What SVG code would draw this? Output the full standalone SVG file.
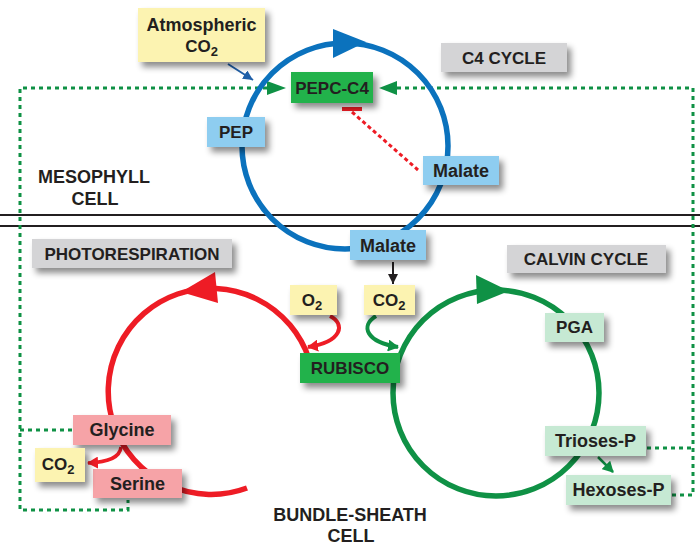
<svg xmlns="http://www.w3.org/2000/svg" width="700" height="548" viewBox="0 0 700 548">
<style>
text{font-family:"Liberation Sans",Arial,sans-serif;font-weight:bold;fill:#231f20;text-anchor:middle;font-size:17px}
.cell{font-size:18px}
.mx{font-size:18px}
.yel{fill:#fcf3b1}
.blu{fill:#8ecdf0}
.pnk{fill:#f6a3a7}
.lgr{fill:#c6e9d3}
.grn{fill:#22b24c}
.gry{fill:#d4d4d6}
.box{filter:url(#sh)}
.dot{fill:none;stroke:#0f9145;stroke-width:3;stroke-dasharray:4 4}
.cyc{fill:none;stroke-width:5.5}
</style>
<defs>
<filter id="sh" x="-20%" y="-30%" width="150%" height="180%">
<feDropShadow dx="4" dy="5" stdDeviation="3" flood-color="#000" flood-opacity="0.45"/>
</filter>
<marker id="ab" markerUnits="userSpaceOnUse" markerWidth="12" markerHeight="10" refX="10" refY="5" orient="auto"><path d="M0,0 L10,5 L0,10 Z" fill="#1f5fa8"/></marker>
<marker id="ak" markerUnits="userSpaceOnUse" markerWidth="12" markerHeight="10" refX="10" refY="5" orient="auto"><path d="M0,0 L10,5 L0,10 Z" fill="#231f20"/></marker>
<marker id="ar" markerUnits="userSpaceOnUse" markerWidth="12" markerHeight="12" refX="10" refY="6" orient="auto"><path d="M0,0 L11,6 L0,12 Z" fill="#ee1c25"/></marker>
<marker id="ag" markerUnits="userSpaceOnUse" markerWidth="12" markerHeight="12" refX="10" refY="6" orient="auto"><path d="M0,0 L11,6 L0,12 Z" fill="#0f9145"/></marker>
</defs>
<rect width="700" height="548" fill="#fff"/>

<g id="connectors">
<line x1="0" y1="215" x2="700" y2="215" stroke="#231f20" stroke-width="2"/>
<line x1="0" y1="226" x2="700" y2="226" stroke="#231f20" stroke-width="2"/>
<path class="dot" d="M267 88 H20 V510 H128 V500"/>
<path class="dot" d="M20 430 H72"/>
<path class="dot" d="M397 88 H693 V495 H672"/>
<path class="dot" d="M647 448 H693"/>
<polygon points="267,81 267,95 286,88" fill="#0f9145"/>
<polygon points="379,88 397,81 397,95" fill="#0f9145"/>
<circle class="cyc" cx="345" cy="146" r="103" stroke="#0b72bd"/>
<polygon points="333,29 333,58 366,42" fill="#0b72bd"/>
<path class="cyc" d="M247 488 A103 103 0 1 1 309 359" stroke="#ee1c25"/>
<polygon points="181,292 215,272 218,303" fill="#ee1c25"/>
<circle class="cyc" cx="496" cy="393" r="103" stroke="#0f9145"/>
<polygon points="476,275 477,304 509,291" fill="#0f9145"/>
<line x1="228" y1="64" x2="253" y2="80" stroke="#1f5fa8" stroke-width="2" marker-end="url(#ab)"/>
<line x1="352" y1="112" x2="418" y2="170" stroke="#ee1c25" stroke-width="3" stroke-dasharray="4 3"/>
<line x1="342" y1="109" x2="362" y2="109" stroke="#ee1c25" stroke-width="4"/>
<line x1="393" y1="262" x2="393" y2="284" stroke="#231f20" stroke-width="2" marker-end="url(#ak)"/>
<path d="M330 316 C346 324 342 342 308 347" fill="none" stroke="#ee1c25" stroke-width="4" marker-end="url(#ar)"/>
<path d="M376 316 C360 326 366 342 398 347" fill="none" stroke="#0f9145" stroke-width="4" marker-end="url(#ag)"/>
<path d="M121 447 C120 457 110 462 88 463" fill="none" stroke="#ee1c25" stroke-width="3.5" marker-end="url(#ar)"/>
<line x1="598" y1="457" x2="613" y2="472" stroke="#0f9145" stroke-width="2.5" marker-end="url(#ag)"/>
</g>

<g id="atmospheric-co2"><rect class="box yel" x="138" y="8" width="127" height="54"/><text class="mx" x="201.5" y="31">Atmospheric</text><text x="201.5" y="52">CO<tspan font-size="13" dy="4">2</tspan></text></g>
<g id="pepc-c4"><rect class="box grn" x="291" y="72" width="82" height="31"/><text x="332" y="94">PEPC-C4</text></g>
<g id="pep"><rect class="box blu" x="207" y="117" width="58" height="30"/><text x="236" y="138">PEP</text></g>
<g id="malate-meso"><rect class="box blu" x="423" y="156" width="76" height="29"/><text class="mx" x="461" y="177">Malate</text></g>
<g id="c4-cycle"><rect class="box gry" x="441" y="43" width="126" height="29"/><text x="504" y="64">C4 CYCLE</text></g>
<g id="mesophyll"><text class="cell" x="94" y="183">MESOPHYLL</text><text class="cell" x="95" y="205">CELL</text></g>
<g id="malate-bs"><rect class="box blu" x="350" y="230" width="76" height="30"/><text class="mx" x="388" y="252">Malate</text></g>
<g id="o2"><rect class="box yel" x="290" y="285" width="47" height="30"/><text x="312" y="306">O<tspan font-size="13" dy="4">2</tspan></text></g>
<g id="co2-bs"><rect class="box yel" x="364" y="285" width="51" height="30"/><text x="389" y="306">CO<tspan font-size="13" dy="4">2</tspan></text></g>
<g id="rubisco"><rect class="box grn" x="300" y="353" width="100" height="30"/><text x="350" y="374">RUBISCO</text></g>
<g id="photorespiration"><rect class="box gry" x="32" y="239" width="200" height="29"/><text x="132" y="260">PHOTORESPIRATION</text></g>
<g id="calvin-cycle"><rect class="box gry" x="507" y="245" width="159" height="28"/><text x="586" y="265">CALVIN CYCLE</text></g>
<g id="pga"><rect class="box lgr" x="545" y="313" width="59" height="29"/><text x="574.5" y="333">PGA</text></g>
<g id="glycine"><rect class="box pnk" x="73" y="415" width="98" height="30"/><text class="mx" x="122" y="436">Glycine</text></g>
<g id="serine"><rect class="box pnk" x="93" y="469" width="89" height="29"/><text class="mx" x="137.5" y="490">Serine</text></g>
<g id="co2-pr"><rect class="box yel" x="35" y="448" width="50" height="34"/><text x="58" y="470">CO<tspan font-size="13" dy="4">2</tspan></text></g>
<g id="trioses-p"><rect class="box lgr" x="545" y="426" width="101" height="30"/><text class="mx" x="595.5" y="447">Trioses-P</text></g>
<g id="hexoses-p"><rect class="box lgr" x="566" y="475" width="105" height="30"/><text class="mx" x="618.5" y="496">Hexoses-P</text></g>
<g id="bundle-sheath"><text class="cell" x="350" y="521">BUNDLE-SHEATH</text><text class="cell" x="351" y="542">CELL</text></g>
</svg>
